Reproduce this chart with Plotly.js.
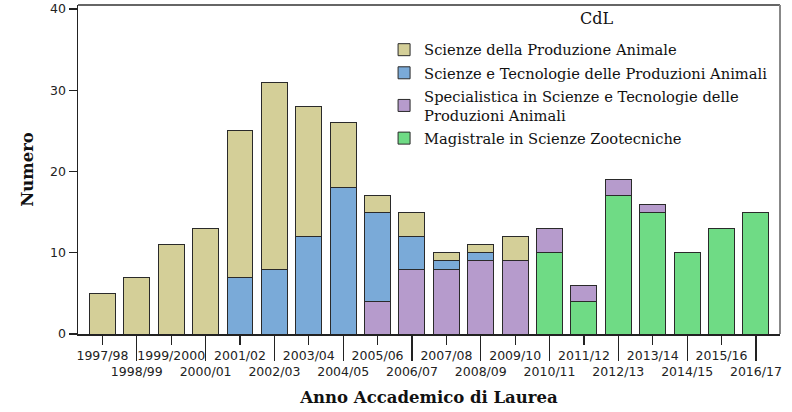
<!DOCTYPE html>
<html>
<head>
<meta charset="utf-8">
<script src="https://cdn.plot.ly/plotly-3.0.1.min.js"></script>
<style>html,body{margin:0;padding:0;background:#fff;}#chart{width:792px;height:412px;}</style>
</head>
<body>
<div id="chart"></div>
<script>
const categories = ['1997/98','1998/99','1999/2000','2000/01','2001/02','2002/03','2003/04','2004/05','2005/06','2006/07','2007/08','2008/09','2009/10','2010/11','2011/12','2012/13','2013/14','2014/15','2015/16','2016/17'];
const seriesNames = ['Scienze della Produzione Animale','Scienze e Tecnologie delle Produzioni Animali','Specialistica in Scienze e Tecnologie delle<br>Produzioni Animali','Magistrale in Scienze Zootecniche'];
const produzioneAnimale = [5,7,11,13,18,23,16,8,2,3,1,1,3,null,null,null,null,null,null,null];
const tecnologieProduzioni = [null,null,null,null,7,8,12,18,11,4,1,1,null,null,null,null,null,null,null,null];
const specialistica = [null,null,null,null,null,null,null,null,4,8,8,9,9,3,2,2,1,null,null,null];
const magistrale = [null,null,null,null,null,null,null,null,null,null,null,null,null,10,4,17,15,10,13,15];
const yTicks = [0,10,20,30,40];
const legendTitle = 'CdL';
const xTitle = 'Anno Accademico di Laurea';
const yTitle = 'Numero';

const colors = ['#d4cf98','#7aaad8','#b69bcc','#6fdb85'];
const idx = categories.map((c,i)=>i);
const evenIdx = idx.filter(i=>i%2===0);
const oddIdx = idx.filter(i=>i%2===1);

function bar(vals, name, color, rank){
  const xs = [], ys = [];
  vals.forEach((v,i)=>{ if(v!==null){ xs.push(i); ys.push(v); } });
  return {type:'bar', x: xs, y: ys, name: name, legendgroup: 'g'+rank, legendrank: rank,
    marker:{color: color, line:{color:'#2a2a2a', width:1}},
    hoverinfo:'skip'};
}
const traces = [
  bar(magistrale, seriesNames[3], colors[3], 4),
  bar(specialistica, seriesNames[2], colors[2], 3),
  bar(tecnologieProduzioni, seriesNames[1], colors[1], 2),
  bar(produzioneAnimale, seriesNames[0], colors[0], 1)
];
const xr = [-0.71, 19.70];
const tickFont = {family:'DejaVu Sans', size:12.5, color:'#222'};
const titleFont = {family:'DejaVu Serif', size:16.5, color:'#111', weight:'bold'};
const layout = {
  width:792, height:412,
  margin:{l:78, r:12, t:5, b:78},
  paper_bgcolor:'#fff', plot_bgcolor:'#fff',
  barmode:'stack', bargap:0.245,
  showlegend:true,
  legend:{
    x:0.436, xanchor:'left', y:0.913, yanchor:'top',
    traceorder:'grouped', tracegroupgap:1,
    font:{family:'DejaVu Serif', size:14.7, color:'#111'},
    bgcolor:'rgba(0,0,0,0)', borderwidth:0
  },
  annotations:[
    {text:legendTitle, xref:'paper', yref:'paper', x:0.739, y:0.959, xanchor:'center', yanchor:'middle', showarrow:false,
     font:{family:'DejaVu Serif', size:16, color:'#111'}}
  ],
  xaxis:{
    range:xr, showgrid:false, zeroline:false,
    showline:true, linecolor:'#222', linewidth:1.5,
    ticks:'outside', ticklen:9, tickwidth:1.2, tickcolor:'#222',
    tickvals: evenIdx, ticktext: evenIdx.map(i=>categories[i]),
    tickfont:tickFont,
    title:{text:xTitle, standoff:30, font:titleFont},
    fixedrange:true
  },
  xaxis2:{
    range:xr, overlaying:'x', anchor:'y', side:'bottom',
    showgrid:false, zeroline:false, showline:false,
    ticks:'outside', ticklen:26, tickwidth:1.2, tickcolor:'#222',
    tickvals: oddIdx, ticktext: oddIdx.map(i=>categories[i]),
    tickfont:tickFont, fixedrange:true
  },
  yaxis:{
    range:[0,40.5], showgrid:false, zeroline:false,
    showline:true, linecolor:'#222', linewidth:1.5,
    ticks:'outside', ticklen:8, tickwidth:1.2, tickcolor:'#222',
    tickvals:yTicks, tickfont:tickFont,
    title:{text:yTitle, standoff:12, font:titleFont},
    fixedrange:true
  },
  shapes:[
    {type:'line', xref:'paper', yref:'paper', x0:0, x1:1, y0:1, y1:1, line:{color:'#333', width:1.5}},
    {type:'line', xref:'paper', yref:'paper', x0:1, x1:1, y0:0, y1:1, line:{color:'#888', width:2}}
  ]
};
// invisible helper trace so that the second (odd-label) x axis is drawn
traces.push({type:'scatter', x:[0], y:[0], xaxis:'x2', yaxis:'y', mode:'markers', marker:{opacity:0}, showlegend:false, hoverinfo:'skip'});
Plotly.newPlot('chart', traces, layout, {displayModeBar:false, staticPlot:true});
</script>
</body>
</html>
